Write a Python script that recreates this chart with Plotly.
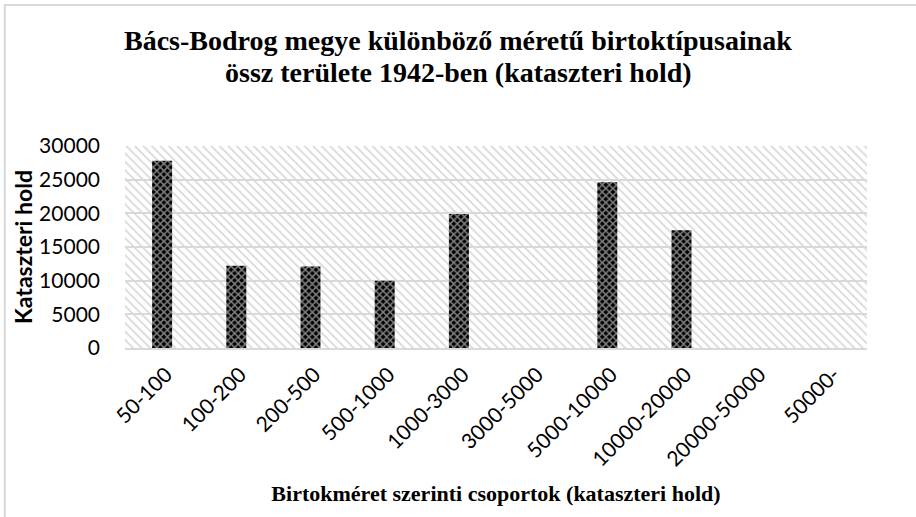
import base64
import plotly.graph_objects as go

# Birtokméret-csoportok és összterület (kataszteri hold), 1942
categories = ['50-100', '100-200', '200-500', '500-1000', '1000-3000',
              '3000-5000', '5000-10000', '10000-20000', '20000-50000', '50000-']
area = [27800, 12200, 12100, 10000, 19900, 0, 24600, 17500, 0, 0]
y_ticks = [0, 5000, 10000, 15000, 20000, 25000, 30000]

title_lines = ['Bács-Bodrog megye különböző méretű birtoktípusainak',
               'össz területe 1942-ben (kataszteri hold)']

# halvány átlós csíkozás a rajzterület hátteréhez
svg = ('<svg xmlns="http://www.w3.org/2000/svg" width="742" height="202">'
       '<defs><pattern id="p" width="6" height="6" patternUnits="userSpaceOnUse" '
       'patternTransform="rotate(-45)"><rect width="6" height="6" fill="white"/>'
       '<rect width="1.8" height="6" fill="#dadada"/></pattern></defs>'
       '<rect width="742" height="202" fill="url(#p)"/></svg>')
bg_src = 'data:image/svg+xml;base64,' + base64.b64encode(svg.encode()).decode()

fig = go.Figure()
fig.add_trace(go.Bar(
    x=categories,
    y=area,
    marker=dict(
        color='black',
        line=dict(width=0),
        pattern=dict(shape='x', fgcolor='white', bgcolor='black', size=5, solidity=0.5),
    ),
    showlegend=False,
))

# cím két sorban, a referencia sortávolságával
for i, line in enumerate(title_lines):
    fig.add_annotation(
        text=f'<b>{line}</b>', xref='paper', yref='paper',
        x=(458 - 125) / 742, y=1 + (146 - (40 + 32 * i)) / 202,
        xanchor='center', yanchor='middle', showarrow=False,
        font=dict(family='Liberation Serif', size=28, color='black'),
    )

fig.update_layout(
    width=916, height=517,
    paper_bgcolor='white',
    plot_bgcolor='rgba(0,0,0,0)',
    margin=dict(l=125, r=49, t=146, b=169),
    bargap=0.73,
    font=dict(family='Lato', size=18, color='black'),
    images=[dict(source=bg_src, xref='paper', yref='paper', x=0, y=1,
                 sizex=1, sizey=1, sizing='stretch', layer='below')],
    shapes=[dict(type='rect', xref='paper', yref='paper', x0=-0.162, x1=1.2,
                 y0=-0.9, y1=1.698, line=dict(color='#d9d9d9', width=2))],
)
fig.update_xaxes(
    tickangle=-45, tickfont=dict(family='Lato', size=21, color='black'),
    ticklabelshift=4, ticklabelstandoff=4,
    title=dict(text='<b>Birtokméret szerinti csoportok (kataszteri hold)</b>',
               font=dict(family='Liberation Serif', size=22, color='black'), standoff=16),
    showline=True, linecolor='#d9d9d9', linewidth=2, ticks='',
)
fig.update_yaxes(
    range=[0, 30000], tickvals=y_ticks, tickformat='d',
    tickfont=dict(family='Lato', size=21, color='black'), ticklabelstandoff=24,
    title=dict(text='<b>Kataszteri hold</b>',
               font=dict(family='Lato', size=23, color='black'), standoff=0),
    gridcolor='#d9d9d9', gridwidth=2, zeroline=False, showline=False,
)

fig.write_html('out.html', config={'displayModeBar': False},
               post_script="document.body.style.margin='0';")
